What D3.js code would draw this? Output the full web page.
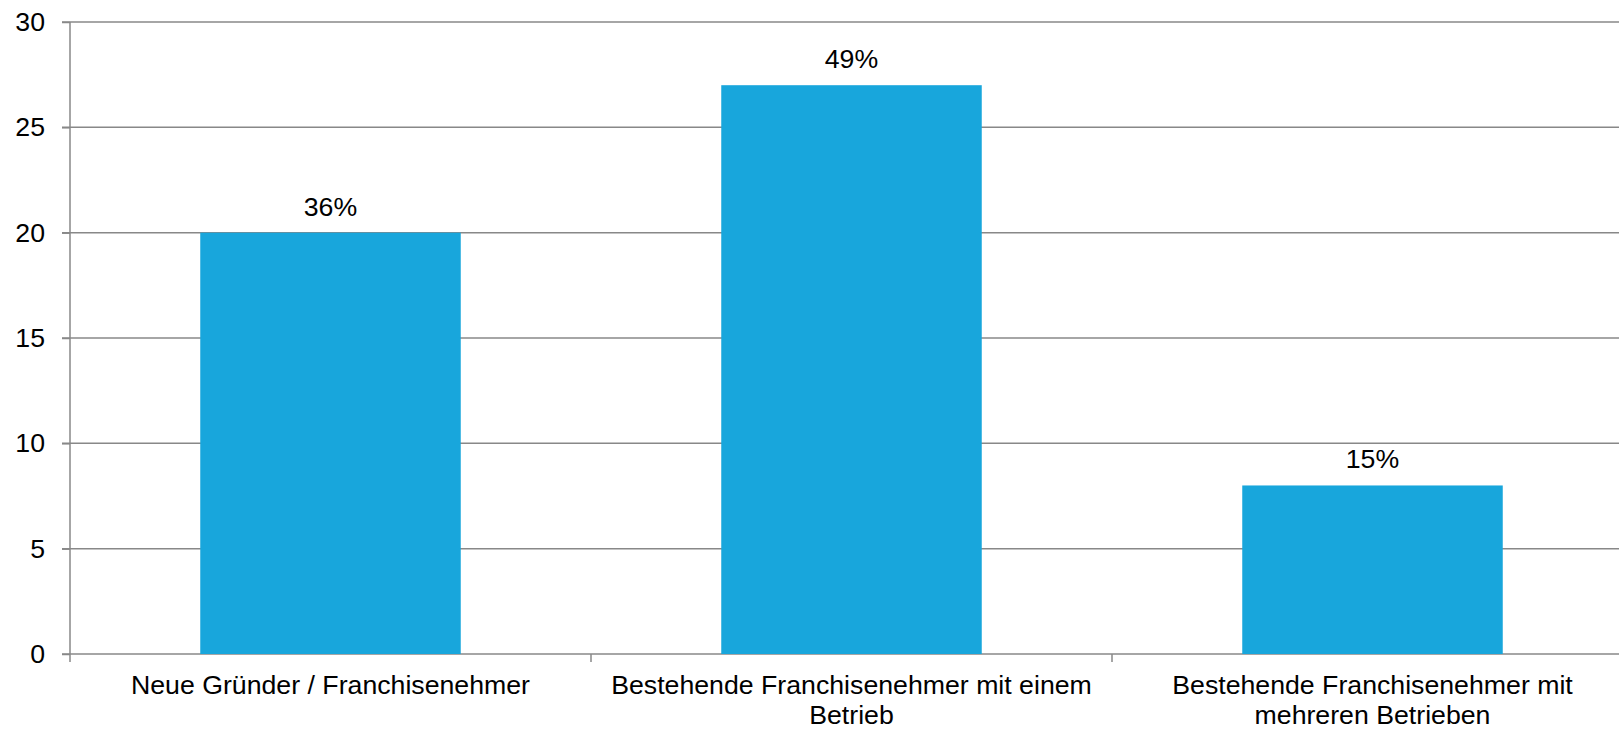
<!DOCTYPE html>
<html>
<head>
<meta charset="utf-8">
<script src="https://cdn.jsdelivr.net/npm/d3@7"></script>
<style>
  body { margin: 0; background: #fff; }
  svg { display: block; }
  text { font-family: "Liberation Sans", Arial, sans-serif; fill: #000; }
</style>
</head>
<body>
<div id="chart"></div>
<script>
// data
var categories = ['Neue Gründer / Franchisenehmer',
    'Bestehende Franchisenehmer mit einem Betrieb',
    'Bestehende Franchisenehmer mit mehreren Betrieben']
var values = [20, 27, 8]
var percentLabels = ['36%', '49%', '15%']
var yTicks = [0, 5, 10, 15, 20, 25, 30]

// set dimensions (plot runs slightly past the right edge, like the original)
var margin = { top: 22, right: -14, bottom: 75, left: 70 }
var svgWidth = 1619
var svgHeight = 729
var width = svgWidth - margin.left - margin.right
var height = svgHeight - margin.top - margin.bottom
var fontSize = '26.7px'
var gridColor = '#888'

var x = d3.scaleBand()
    .domain(categories)
    .range([0, width])
    .paddingInner(0.5)
    .paddingOuter(0.25)
var y = d3.scaleLinear()
    .domain([0, 30])
    .range([height, 0])

var svg = d3.select('#chart')
    .append('svg')
    .attr('width', svgWidth)
    .attr('height', svgHeight)
    .append('g')
    .attr('transform', 'translate(' + margin.left + ',' + margin.top + ')')

// gridlines
svg.append('g')
    .selectAll('line')
    .data(yTicks)
    .enter().append('line')
    .attr('x1', -8)
    .attr('x2', width)
    .attr('y1', function (d) { return y(d) })
    .attr('y2', function (d) { return y(d) })
    .style('stroke', gridColor)
    .style('stroke-width', 1.5)

// y axis
var yAxis = d3.axisLeft(y)
    .tickValues(yTicks)
    .tickSize(8)
    .tickPadding(17)
var gy = svg.append('g').call(yAxis)
gy.select('.domain').remove()
gy.selectAll('line').style('stroke', gridColor).style('stroke-width', 1.5)
gy.selectAll('text')
    .style('font-size', fontSize)
    .style('font-family', '"Liberation Sans", Arial, sans-serif')
    .attr('dy', '0.32em')
svg.append('line')
    .attr('x1', 0).attr('x2', 0)
    .attr('y1', 0).attr('y2', height)
    .style('stroke', gridColor)
    .style('stroke-width', 1.5)

// x axis ticks at band boundaries
var bounds = d3.range(categories.length + 1).map(function (i) { return i * x.step() })
svg.append('g')
    .selectAll('line')
    .data(bounds)
    .enter().append('line')
    .attr('x1', function (d) { return d })
    .attr('x2', function (d) { return d })
    .attr('y1', height)
    .attr('y2', height + 8)
    .style('stroke', gridColor)
    .style('stroke-width', 1.5)

// bars
svg.selectAll('rect.bar')
    .data(values)
    .enter().append('rect')
    .attr('class', 'bar')
    .attr('x', function (d, i) { return x(categories[i]) })
    .attr('width', x.bandwidth())
    .attr('y', function (d) { return y(d) })
    .attr('height', function (d) { return height - y(d) })
    .style('fill', '#18a6dc')

// percent labels above bars
svg.selectAll('text.pct')
    .data(values)
    .enter().append('text')
    .attr('class', 'pct')
    .attr('x', function (d, i) { return x(categories[i]) + x.bandwidth() / 2 })
    .attr('y', function (d) { return y(d) - 17 })
    .style('text-anchor', 'middle')
    .style('font-size', fontSize)
    .text(function (d, i) { return percentLabels[i] })

// category labels, wrapped
var catText = svg.selectAll('text.cat')
    .data(categories)
    .enter().append('text')
    .attr('class', 'cat')
    .attr('x', function (d) { return x(d) + x.bandwidth() / 2 })
    .attr('y', height + 40)
    .style('text-anchor', 'middle')
    .style('font-size', fontSize)
    .text(function (d) { return d })

function wrap(text, maxWidth) {
    text.each(function () {
        var t = d3.select(this)
        var words = t.text().split(/\s+/)
        var cx = t.attr('x')
        var line = []
        t.text(null)
        var tspan = t.append('tspan').attr('x', cx).attr('dy', 0)
        words.forEach(function (w) {
            line.push(w)
            tspan.text(line.join(' '))
            if (tspan.node().getComputedTextLength() > maxWidth && line.length > 1) {
                line.pop()
                tspan.text(line.join(' '))
                line = [w]
                tspan = t.append('tspan').attr('x', cx).attr('dy', 30).text(w)
            }
        })
    })
}
catText.call(wrap, 500)
</script>
</body>
</html>
